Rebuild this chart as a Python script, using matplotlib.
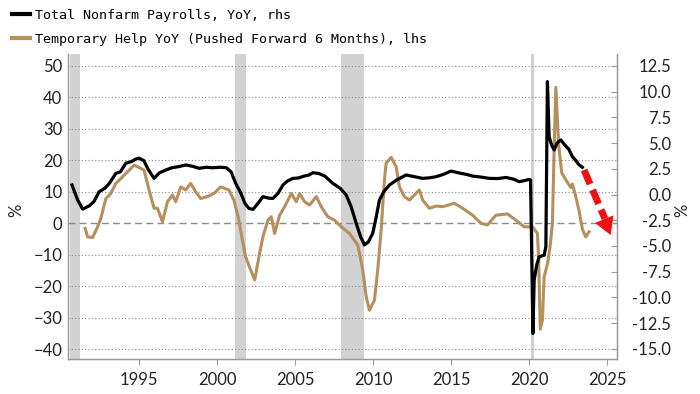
import numpy as np
import matplotlib
matplotlib.use("Agg")
import matplotlib.pyplot as plt
from matplotlib.lines import Line2D

# Total nonfarm payrolls YoY (%, right axis)
nfp_years = [1990.7, 1991.06, 1991.38, 1991.8, 1992.1, 1992.44, 1992.8, 1993.1, 1993.51,
             1993.8, 1994.15, 1994.5, 1994.8, 1995.0, 1995.3, 1995.6, 1995.96, 1996.3,
             1996.71, 1997.1, 1997.5, 1997.99, 1998.4, 1998.84, 1999.3, 1999.7, 2000.23,
             2000.6, 2000.9, 2001.19, 2001.5, 2001.8, 2002.04, 2002.3, 2002.6, 2002.94,
             2003.3, 2003.58, 2003.9, 2004.22, 2004.5, 2004.86, 2005.2, 2005.6, 2005.9,
             2006.14, 2006.5, 2006.9, 2007.42, 2007.9, 2008.28, 2008.6, 2008.92, 2009.2,
             2009.45, 2009.7, 2009.98, 2010.2, 2010.41, 2010.7, 2011.05, 2011.5, 2012.12,
             2012.6, 2013.18, 2013.6, 2014.04, 2014.5, 2015.0, 2015.5, 2016.0, 2016.38,
             2016.9, 2017.45, 2018.0, 2018.52, 2019.0, 2019.37, 2019.7, 2020.01, 2020.1,
             2020.25, 2020.33, 2020.5, 2020.65, 2020.97, 2021.08, 2021.18, 2021.29, 2021.45,
             2021.61, 2021.8, 2022.04, 2022.3, 2022.55, 2022.78, 2023.0, 2023.2, 2023.42]
nfp_yoy = [0.93, -0.53, -1.42, -1.1, -0.7, 0.27, 0.6, 1.1, 2.06,
           2.2, 3.04, 3.2, 3.45, 3.53, 3.3, 2.4, 1.57, 2.1,
           2.38, 2.6, 2.7, 2.87, 2.75, 2.55, 2.65, 2.6, 2.65,
           2.6, 2.2, 1.09, 0.2, -0.9, -1.34, -1.45, -0.9, -0.21,
           -0.35, -0.38, 0.1, 0.92, 1.3, 1.57, 1.6, 1.8, 1.9,
           2.12, 2.05, 1.8, 1.09, 0.6, -0.05, -1.2, -2.8, -4.1,
           -4.9, -4.6, -3.77, -2.2, -0.53, 0.3, 0.92, 1.4, 1.9,
           1.75, 1.57, 1.62, 1.73, 1.95, 2.28, 2.1, 1.95, 1.79,
           1.7, 1.57, 1.55, 1.66, 1.5, 1.25, 1.35, 1.47, 1.4,
           -13.5, -8.3, -6.8, -6.04, -5.9, -5.06, 10.97, 5.62, 4.8,
           4.33, 5.0, 5.3, 4.8, 4.4, 3.68, 3.3, 2.9, 2.65]

# Temporary help YoY, pushed forward 6 months (%, left axis)
temp_years = [1991.54, 1991.7, 1992.02, 1992.34, 1992.55, 1992.87, 1993.19, 1993.51, 1993.94,
              1994.36, 1994.68, 1994.9, 1995.32, 1995.64, 1995.96, 1996.18, 1996.5, 1996.82,
              1997.14, 1997.35, 1997.67, 1997.99, 1998.31, 1998.63, 1998.95, 1999.38, 1999.8,
              2000.23, 2000.76, 2001.08, 2001.4, 2001.62, 2001.83, 2002.15, 2002.41, 2002.73,
              2002.94, 2003.26, 2003.48, 2003.69, 2004.01, 2004.33, 2004.76, 2005.08, 2005.29,
              2005.61, 2005.93, 2006.36, 2006.68, 2007.1, 2007.53, 2007.96, 2008.49, 2009.02,
              2009.34, 2009.56, 2009.77, 2010.09, 2010.3, 2010.52, 2010.73, 2010.84, 2011.16,
              2011.48, 2011.69, 2012.01, 2012.33, 2012.65, 2012.97, 2013.18, 2013.61, 2014.04,
              2014.46, 2015.21, 2015.74, 2016.38, 2016.92, 2017.34, 2017.88, 2018.62, 2019.16,
              2019.69, 2020.22, 2020.54, 2020.62, 2020.72, 2020.86, 2020.97, 2021.2, 2021.35,
              2021.5, 2021.62, 2021.72, 2021.9, 2022.1, 2022.36, 2022.68, 2022.78, 2023.0,
              2023.21, 2023.42, 2023.64, 2023.85]
temp_yoy = [-1.6, -4.3, -4.5, -1.1, 1.6, 7.9, 9.5, 12.7, 14.8,
            16.9, 18.5, 18.0, 16.9, 10.6, 4.8, 4.8, 0.5, 6.9,
            9.0, 6.9, 11.6, 10.6, 12.7, 10.0, 7.9, 8.5, 9.5,
            11.6, 10.6, 7.4, 1.0, -5.3, -10.6, -14.8, -18.0, -9.5,
            -4.3, 1.0, 2.1, -3.2, 2.6, 5.3, 9.5, 6.9, 9.5,
            6.9, 5.8, 8.5, 5.3, 2.1, 1.0, -1.1, -3.2, -6.9,
            -14.8, -23.3, -27.6, -24.4, -14.8, -2.1, 13.8, 19.1, 21.0,
            18.0, 11.6, 8.5, 7.4, 9.0, 10.6, 7.4, 4.8, 5.5,
            5.3, 6.4, 4.8, 2.6, 0.0, -0.5, 2.6, 3.0, 1.0,
            -1.1, -1.1, -3.2, -11.7, -33.6, -30.7, -17.0, -12.5, -7.4,
            0.0, 25.4, 43.2, 25.0, 16.0, 13.8, 11.4, 12.5, 8.5,
            4.0, -1.8, -4.3, -2.7]

recessions = [(1990.54, 1991.2), (2001.17, 2001.83), (2007.92, 2009.42), (2020.12, 2020.3)]

xticks = [1995, 2000, 2005, 2010, 2015, 2020, 2025]
left_ticks = [-40, -30, -20, -10, 0, 10, 20, 30, 40, 50]
right_ticks = [-15.0, -12.5, -10.0, -7.5, -5.0, -2.5, 0.0, 2.5, 5.0, 7.5, 10.0, 12.5]

# red "forecast" arrow (year, rhs value)
arrow_start = (2023.53, 2.38)
arrow_base = (2024.87, -2.35)
arrow_tip = (2025.24, -3.94)

tan = '#B58F5C'
grid_col = '#8a8a8a'
spine_col = '#9a9a9a'
tick_font = 'Lato'

#%%
fig = plt.figure(figsize=(7, 3.94), dpi=100)
ax = fig.add_axes([0.0971, 0.0888, 0.7843, 0.7741])
ax2 = ax.twinx()

for s, e in recessions:
    ax.axvspan(s, e, color='#d2d2d2', lw=0, zorder=0)

ax.plot(temp_years, temp_yoy, color=tan, lw=2.2, zorder=3)
ax2.plot(nfp_years, nfp_yoy, color='black', lw=2.3, zorder=3)

ax.set_xlim(1990.44, 2025.64)
ax.set_ylim(-43.1, 53.8)
ax2.set_ylim(-15.98, 13.65)

ax.set_xticks(xticks)
ax.set_yticks(left_ticks)
ax2.set_yticks(right_ticks)
ax2.set_yticklabels([f'{v:.1f}' for v in right_ticks])

ax.grid(axis='y', color=grid_col, linestyle=(0, (1, 2)), lw=0.8)
for line, t in zip(ax.yaxis.get_gridlines(), left_ticks):
    if t == 0:
        line.set_linestyle((0, (5, 3)))
        line.set_linewidth(1.0)

for a in (ax, ax2):
    a.spines['top'].set_visible(False)
    for side in ('left', 'right', 'bottom'):
        a.spines[side].set_color(spine_col)
        a.spines[side].set_linewidth(0.9)

ax.tick_params(axis='y', length=0, pad=4, labelsize=12, labelcolor='#222222')
ax.tick_params(axis='x', length=4, width=0.8, color=spine_col, pad=5, labelsize=12,
               labelcolor='#222222')
ax2.tick_params(axis='y', direction='in', length=4, width=0.8, color=spine_col, pad=39,
                labelsize=12, labelcolor='#222222')
for lab in ax2.get_yticklabels():
    lab.set_horizontalalignment('right')
for lab in ax.get_xticklabels() + ax.get_yticklabels() + ax2.get_yticklabels():
    lab.set_fontfamily(tick_font)

ax.set_ylabel('%', fontsize=12, family=tick_font, color='#222222')
ax.yaxis.set_label_coords(-0.08, 0.489)
ax2.set_ylabel('%', fontsize=12, family=tick_font, color='#222222')
ax2.yaxis.set_label_coords(1.105, 0.489)

# forecast arrow: dashed shaft + filled head
ax2.plot([arrow_start[0], arrow_base[0]], [arrow_start[1], arrow_base[1]], color='#ee1111',
         lw=5, linestyle=(0, (2.2, 0.9)), solid_capstyle='butt', zorder=5)
ax2.annotate('', xy=arrow_tip, xytext=arrow_start,
             arrowprops=dict(arrowstyle='-|>,head_length=0.62,head_width=0.36',
                             facecolor='#ee1111', edgecolor='none', lw=0,
                             shrinkA=0, shrinkB=0, mutation_scale=20), zorder=6)

handles = [Line2D([], [], color='black', lw=3),
           Line2D([], [], color=tan, lw=3)]
labels = ['Total Nonfarm Payrolls, YoY, rhs',
          'Temporary Help YoY (Pushed Forward 6 Months), lhs']
fig.legend(handles, labels, loc='upper left', bbox_to_anchor=(0.005, 0.998), frameon=False,
           prop={'family': 'DejaVu Sans Mono', 'size': 9.6}, handlelength=1.4,
           handletextpad=0.35, labelspacing=0.85, borderaxespad=0.2)

fig.savefig('out.png', dpi=100)
